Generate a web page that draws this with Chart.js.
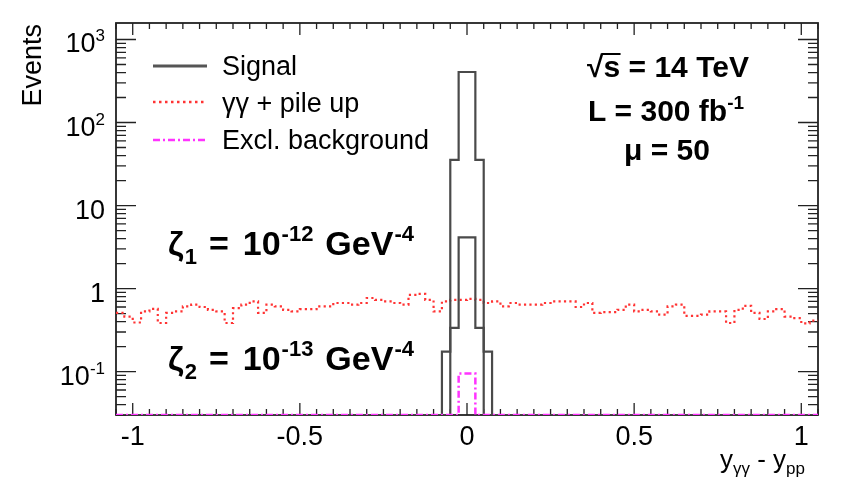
<!DOCTYPE html>
<html><head><meta charset="utf-8">
<script src="https://cdn.jsdelivr.net/npm/chart.js@4.4.1/dist/chart.umd.min.js"></script>
<style>html,body{margin:0;padding:0;background:#fff;overflow:hidden}</style>
</head><body>
<canvas id="c" width="845" height="483"></canvas>
<script>
// ---------- data ----------
const binLow = -1.05, binHigh = 1.05, binWidth = 0.025;
const yMin = 0.03, yMax = 1580;
const xTickValues = [-1, -0.5, 0, 0.5, 1];
const xTickLabels = ['-1', '-0.5', '0', '0.5', '1'];
const yTickValues = [0.1, 1, 10, 100, 1000];
const yTickBase = ['10', '1', '10', '10', '10'];
const yTickExp = ['-1', '', '', '2', '3'];
// gamma gamma + pile up (84 bins of 0.025 from -1.05)
const bkgValues = [
 0.51, 0.46, 0.39, 0.53, 0.57, 0.385, 0.51, 0.53, 0.61, 0.64,
 0.60, 0.555, 0.53, 0.385, 0.58, 0.64, 0.70, 0.51, 0.64, 0.61,
 0.555, 0.53, 0.565, 0.565, 0.61, 0.61, 0.67, 0.67, 0.64, 0.67,
 0.77, 0.73, 0.70, 0.67, 0.64, 0.84, 0.865, 0.73, 0.53, 0.70,
 0.73, 0.73, 0.75, 0.73, 0.67, 0.70, 0.61, 0.67, 0.64, 0.64,
 0.64, 0.67, 0.70, 0.70, 0.70, 0.60, 0.67, 0.51, 0.52, 0.52,
 0.555, 0.64, 0.53, 0.555, 0.53, 0.485, 0.61, 0.64, 0.47, 0.47,
 0.485, 0.53, 0.53, 0.385, 0.555, 0.62, 0.51, 0.43, 0.53, 0.565,
 0.46, 0.44, 0.38, 0.41
];
// signal histograms (non-empty bins only)
const signalBinCenters = [-0.0625, -0.0375, -0.0125, 0.0125, 0.0375, 0.0625];
const signalZeta1 = [0.174, 35.5, 406, 406, 35.5, 0.174];
const signalZeta2 = [0, 0.337, 4.14, 4.14, 0.337, 0];
// exclusive background
const exclBinCenters = [-0.0125, 0.0125];
const exclValues = [0.095, 0.095];

// ---------- helpers ----------
const FONT = '"Liberation Sans", Arial, Helvetica, sans-serif';
const nBins = Math.round((binHigh - binLow) / binWidth);
function toFull(centers, vals) {
  const arr = new Array(nBins).fill(0);
  centers.forEach((c, k) => { arr[Math.floor((c - binLow) / binWidth)] = vals[k]; });
  return arr;
}
function histPoints(vals) {
  const pts = vals.map((v, i) => ({ x: binLow + i * binWidth, y: Math.max(v, yMin) }));
  pts.push({ x: binLow + vals.length * binWidth, y: Math.max(vals[vals.length - 1], yMin) });
  return pts;
}
function rich(ctx, parts, x, y, align) {
  let w = 0;
  parts.forEach(p => { ctx.font = (p.bold ? 'bold ' : '') + p.size + 'px ' + FONT; p.w = ctx.measureText(p.t).width; w += p.w + (p.gap || 0); });
  let cx = align === 'right' ? x - w : align === 'center' ? x - w / 2 : x;
  const pos = [];
  parts.forEach(p => {
    ctx.font = (p.bold ? 'bold ' : '') + p.size + 'px ' + FONT;
    ctx.textAlign = 'left'; ctx.textBaseline = 'alphabetic';
    cx += (p.gap || 0);
    ctx.fillText(p.t, cx, y + (p.dy || 0));
    pos.push([cx, cx + p.w]);
    cx += p.w;
  });
  return pos;
}

const rootStyle = {
  id: 'rootStyle',
  beforeDatasetsDraw(chart) {
    const { ctx, chartArea: a, scales: { x, y } } = chart;
    ctx.save();
    ctx.strokeStyle = '#222'; ctx.lineWidth = 1.8; ctx.setLineDash([]);
    ctx.strokeRect(a.left, a.top, a.right - a.left, a.bottom - a.top);
    ctx.lineWidth = 1.3;
    ctx.beginPath();
    for (let k = -21; k <= 21; k++) {
      const v = k * 0.05; const px = x.getPixelForValue(v);
      const len = (k % 10 === 0) ? 12 : 6;
      ctx.moveTo(px, a.bottom); ctx.lineTo(px, a.bottom - len);
      ctx.moveTo(px, a.top); ctx.lineTo(px, a.top + len);
    }
    for (let e = -2; e <= 3; e++) {
      for (let m = 1; m <= 9; m++) {
        const v = m * Math.pow(10, e);
        if (v < yMin || v > yMax) continue;
        const py = y.getPixelForValue(v);
        const len = m === 1 ? 20 : 10;
        ctx.moveTo(a.left, py); ctx.lineTo(a.left + len, py);
        ctx.moveTo(a.right, py); ctx.lineTo(a.right - len, py);
      }
    }
    ctx.stroke();
    ctx.restore();
  },
  afterDraw(chart) {
    const { ctx, scales: { y } } = chart;
    ctx.save();
    ctx.fillStyle = '#000';
    // y labels
    yTickValues.forEach((v, i) => {
      const py = y.getPixelForValue(v) + 13;
      const parts = [{ t: yTickBase[i], size: 27 }];
      if (yTickExp[i]) parts.push({ t: yTickExp[i], size: 17, dy: -11 });
      rich(ctx, parts, 105, py, 'right');
    });
    // y title
    ctx.save();
    ctx.translate(41, 24); ctx.rotate(-Math.PI / 2);
    ctx.font = '27px ' + FONT; ctx.textAlign = 'right'; ctx.textBaseline = 'alphabetic';
    ctx.fillText('Events', 0, 0);
    ctx.restore();
    // x title
    rich(ctx, [
      { t: 'y', size: 26 }, { t: 'γγ', size: 17, dy: 6 },
      { t: ' - ', size: 26 }, { t: 'y', size: 26 }, { t: 'pp', size: 17, dy: 6 }
    ], 805, 468, 'right');
    // legend
    const lx0 = 153, lx1 = 207, tx = 222;
    ctx.lineWidth = 3; ctx.strokeStyle = '#555'; ctx.setLineDash([]);
    ctx.beginPath(); ctx.moveTo(lx0, 66); ctx.lineTo(lx1, 66); ctx.stroke();
    ctx.lineWidth = 2.5; ctx.strokeStyle = '#ff3333'; ctx.setLineDash([2.5, 3.5]);
    ctx.beginPath(); ctx.moveTo(lx0, 102); ctx.lineTo(lx1, 102); ctx.stroke();
    ctx.strokeStyle = '#ff33ff'; ctx.setLineDash([7, 3, 2, 3]);
    ctx.beginPath(); ctx.moveTo(lx0, 140); ctx.lineTo(lx1, 140); ctx.stroke();
    ctx.setLineDash([]);
    ctx.font = '27px ' + FONT; ctx.textAlign = 'left'; ctx.fillStyle = '#000';
    ctx.fillText('Signal', tx, 75);
    ctx.fillText('γγ + pile up', tx, 112);
    ctx.fillText('Excl. background', tx, 149);
    // top-right text
    const p1 = rich(ctx, [{ t: '√', size: 30, bold: true }, { t: 's = 14 TeV', size: 30, bold: true }], 668, 77, 'center');
    ctx.lineWidth = 2; ctx.strokeStyle = '#000';
    ctx.beginPath(); ctx.moveTo(p1[0][1] - 2, 77 - 23); ctx.lineTo(p1[1][0] + 17, 77 - 23); ctx.stroke();
    rich(ctx, [{ t: 'L = 300 fb', size: 30, bold: true }, { t: '-1', size: 19, bold: true, dy: -12 }], 666, 121, 'center');
    rich(ctx, [{ t: 'μ = 50', size: 30, bold: true }], 667, 160, 'center');
    // zeta labels
    const zeta = (sub, exp, base) => rich(ctx, [
      { t: 'ζ', size: 34, bold: true }, { t: sub, size: 22, bold: true, dy: 9, gap: 1 },
      { t: '=', size: 34, bold: true, gap: 12 }, { t: '10', size: 34, bold: true, gap: 14 },
      { t: exp, size: 22, bold: true, dy: -14, gap: 1 },
      { t: 'GeV', size: 34, bold: true, gap: 12 }, { t: '-4', size: 22, bold: true, dy: -14, gap: 1 }
    ], 168, base, 'left');
    zeta('1', '-12', 255);
    zeta('2', '-13', 370);
    ctx.restore();
  }
};

new Chart(document.getElementById('c'), {
  type: 'line',
  data: {
    datasets: [
      { label: 'Excl. background', data: histPoints(toFull(exclBinCenters, exclValues)), stepped: 'before',
        borderColor: '#ff33ff', borderWidth: 2.5, borderDash: [7, 3, 2, 3], fill: false, order: 0 },
      { label: 'Signal ζ1', data: histPoints(toFull(signalBinCenters, signalZeta1)), stepped: 'before',
        borderColor: '#4a4a4a', borderWidth: 2.2, fill: false, order: 1 },
      { label: 'Signal ζ2', data: histPoints(toFull(signalBinCenters, signalZeta2)), stepped: 'before',
        borderColor: '#4a4a4a', borderWidth: 2.2, fill: false, order: 1 },
      { label: 'γγ + pile up', data: histPoints(bkgValues), stepped: 'before',
        borderColor: '#ff3333', borderWidth: 2.2, borderDash: [2.2, 3.2], fill: false, order: 2 }
    ]
  },
  options: {
    responsive: false, animation: false, devicePixelRatio: 1,
    layout: { padding: { left: 0, top: 23, right: 27, bottom: 0 } },
    plugins: { legend: { display: false }, tooltip: { enabled: false } },
    elements: { point: { radius: 0 }, line: { tension: 0 } },
    scales: {
      x: {
        type: 'linear', min: binLow, max: binHigh,
        grid: { display: false, drawTicks: false }, border: { display: false },
        afterBuildTicks: s => { s.ticks = xTickValues.map(v => ({ value: v })); },
        afterFit: s => { s.height = 68; },
        ticks: { autoSkip: false, maxRotation: 0, padding: 6, color: '#000',
          font: { family: FONT, size: 27 },
          callback: v => xTickLabels[xTickValues.indexOf(v)] }
      },
      y: {
        type: 'logarithmic', min: yMin, max: yMax,
        grid: { display: false, drawTicks: false }, border: { display: false },
        ticks: { display: false },
        afterFit: s => { s.width = 116; }
      }
    }
  },
  plugins: [rootStyle]
});
</script>
</body></html>
